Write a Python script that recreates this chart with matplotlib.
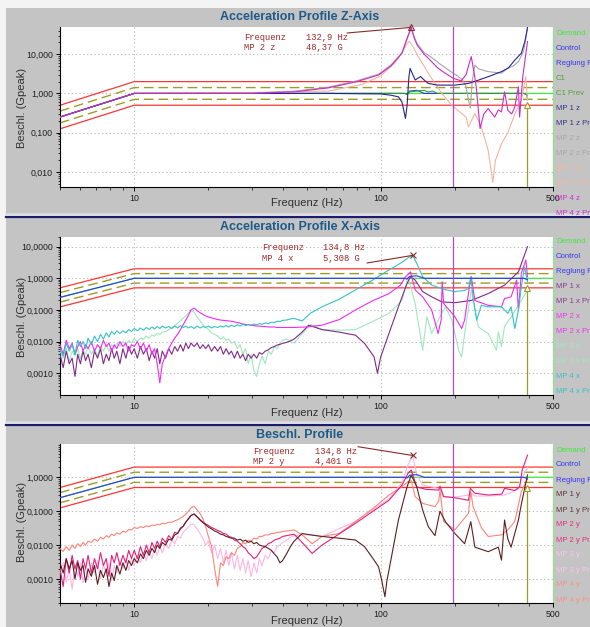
import numpy as np
import matplotlib
matplotlib.use('Agg')
import matplotlib.pyplot as plt
from matplotlib.patches import Rectangle
from matplotlib.lines import Line2D
from matplotlib.ticker import LogLocator, FixedLocator, FixedFormatter, NullFormatter

plt.rcParams['font.family'] = ['Liberation Sans', 'DejaVu Sans']

# ---------------- data ----------------
DEMAND_F = [5, 10, 500]
DEMAND_V = [0.25, 1.0, 1.0]
ABORT_HI_V = [0.5, 2.0, 2.0]
ABORT_LO_V = [0.125, 0.5, 0.5]
ALARM_HI_V = [0.354, 1.41, 1.41]
ALARM_LO_V = [0.177, 0.707, 0.707]

CTRL_F = [5, 10, 125, 128, 131, 140, 145, 150, 380, 388, 394]
CTRL_V = [0.25, 1.0, 1.0, 0.95, 1.15, 1.2, 1.1, 1.0, 1.0, 0.95, 0.9]

VLINE_PURPLE = 196
VLINE_OLIVE = 394
ARROW_V = 0.5

# Panel Z
Z_C1_F = [5, 10, 125, 128, 131, 140, 150, 156, 162, 170, 385, 390, 394]
Z_C1_V = [0.25, 1.0, 1.0, 0.95, 1.1, 1.15, 1.2, 1.08, 1.15, 1.0, 1.0, 0.95, 0.75]
Z_MP1_F = [5, 10, 60, 100, 110, 118, 122, 126, 128, 130, 131.6, 135, 138, 145, 150, 156, 170, 200, 227, 250, 273, 309, 330, 350, 372, 385, 394]
Z_MP1_V = [0.25, 1.0, 1.0, 0.97, 0.9, 0.82, 0.6, 0.23, 0.5, 2.5, 4.37, 3.0, 2.2, 2.7, 2.2, 1.8, 1.63, 1.63, 1.8, 2.2, 2.67, 3.6, 4.5, 7.1, 10.6, 22, 48]
Z_MP2_F = [5, 10, 30, 45, 61.5, 80, 98, 110, 122, 128, 132.9, 137, 141, 150, 160, 175, 190, 205, 215, 222, 227, 231, 235, 241, 250, 273, 309, 328, 345, 362, 380, 394]
Z_MP2_V = [0.25, 1.0, 1.02, 1.15, 1.45, 2.1, 3.1, 5.3, 11, 26, 47, 27, 18, 11, 8.5, 5.5, 3.8, 2.8, 2.2, 1.5, 0.67, 0.42, 2.0, 5.3, 4.2, 3.6, 3.3, 4.4, 5.0, 6.5, 12, 46]
Z_MP3_F = [5, 10, 30, 45, 61.5, 84, 100, 114, 122, 128, 131, 135, 142, 156, 177, 196, 222, 227, 241, 256, 273, 285, 292, 309, 328, 350, 372, 388, 394]
Z_MP3_V = [0.25, 1.0, 1.05, 1.1, 1.15, 1.7, 2.8, 6.0, 11, 19, 21, 16, 8.7, 3.26, 1.0, 0.47, 0.25, 0.14, 0.31, 0.14, 0.035, 0.0054, 0.0195, 0.052, 0.1, 0.3, 0.67, 2.67, 0.67]
Z_MP4_F = [5, 10, 30, 45, 61.5, 80, 98, 110, 122, 128, 132.9, 137, 140.5, 150, 156, 170, 183, 197, 212, 222, 228, 233, 240, 244, 253, 262, 273, 290, 300, 309, 318, 328, 340, 350, 362, 366, 377, 394]
Z_MP4_V = [0.25, 1.0, 1.0, 1.1, 1.39, 2.0, 2.95, 5.0, 10.6, 25, 48.37, 25, 17.3, 10, 7.9, 4.5, 3.26, 2.42, 2.1, 3.0, 5.5, 8.7, 3.0, 1.48, 0.127, 0.3, 0.41, 0.25, 0.38, 0.34, 1.1, 0.37, 0.3, 0.45, 1.48, 0.25, 2.67, 21]

# low-frequency analysis lines shared by the noisy X / Y spectra
LF_FREQ = [5.0, 5.15, 5.3, 5.45, 5.6, 5.75, 5.9, 6.05, 6.2, 6.35, 6.5,
           6.7, 6.9, 7.1, 7.3, 7.5, 7.7, 7.9, 8.1, 8.3, 8.5,
           8.75, 9.0, 9.25, 9.5, 9.75,
           10.0, 10.3, 10.6, 10.9, 11.2, 11.5, 11.8, 12.1, 12.4, 12.7,
           13.0, 13.4, 13.8, 14.2, 14.6, 15.0, 15.4, 15.8, 16.2, 16.6,
           17.0, 17.5, 18.0, 18.5, 19.0, 19.5, 20.0,
           20.6, 21.2, 21.8, 22.4, 23.0, 23.6, 24.2, 24.8,
           25.5, 26.2, 26.9, 27.6, 28.3,
           29.0, 29.8, 30.6, 31.4, 32.2, 33.0,
           34.0, 35.0, 36.0, 37.0, 38.0, 39.0, 40.0,
           41.5, 43.0, 44.5]

# Panel X
X_MP1_LF = [.004, .0015, .005, .002, .003, .0008, .004, .002, .005, .0025, .004,
            .0015, .005, .003, .006, .002, .004, .0025, .006, .003, .005,
            .002, .006, .003, .007, .004,
            .006, .003, .007, .004, .006, .0025, .005, .003, .006, .002,
            .005, .003, .006, .004, .007, .005, .008, .005, .009, .006,
            .009, .007, .009, .006, .008, .006, .008,
            .005, .007, .005, .007, .004, .006, .004, .005,
            .003, .005, .003, .004, .0025,
            .004, .003, .004, .003, .0045, .004,
            .005, .0055, .0065, .007, .0078, .0082, .0088,
            .0095, .0105, .012]
X_MP1_HF_F = [48, 51, 57.8, 67.8, 79, 86, 94, 97, 100, 108, 118, 128, 132, 138, 148, 161, 177, 200, 233, 273, 318, 362, 394]
X_MP1_HF_V = [0.02, 0.033, 0.024, 0.02, 0.016, 0.0088, 0.0033, 0.001, 0.0033, 0.018, 0.126, 0.7, 1.12, 0.88, 0.38, 0.26, 0.18, 0.17, 0.2, 0.33, 0.61, 1.6, 10]

X_MP2_LF = [.008, .004, .011, .006, .009, .004, .007, .010, .005, .008, .006,
            .010, .005, .008, .006, .011, .007, .009, .005, .008, .006,
            .010, .007, .009, .005, .008,
            .007, .010, .006, .009, .005, .008, .004, .006, .002, .0005,
            .002, .0035, .006, .009, .013, .017, .024, .034, .048, .068,
            .10, .115, .095, .082, .072, .065, .060,
            .056, .053, .050, .048, .047, .046, .045, .044,
            .042, .040, .038, .036, .035,
            .034, .033, .032, .031, .031, .030,
            .030, .029, .029, .029, .028, .028, .028,
            .028, .028, .028]
X_MP2_HF_F = [49.5, 57.8, 68, 79, 92, 108, 120, 126, 132, 138, 148, 161, 171, 176, 177.5, 180, 200, 213, 219, 228, 233, 241, 273, 309, 318, 338, 356, 362, 372, 388, 394]
X_MP2_HF_V = [0.029, 0.033, 0.05, 0.1, 0.19, 0.33, 0.6, 1.1, 1.6, 0.43, 0.26, 0.1, 0.018, 0.05, 0.78, 0.16, 0.061, 0.026, 0.048, 0.43, 1.12, 0.2, 0.14, 0.126, 0.23, 0.26, 0.88, 0.1, 1.44, 3.8, 1.12]

X_MP3_LF = [.005, .003, .006, .0025, .005, .0035, .006, .003, .005, .004, .007,
            .004, .006, .0035, .007, .005, .008, .005, .008, .006, .009,
            .007, .010, .008, .011, .009,
            .012, .010, .013, .012, .015, .013, .016, .015, .018, .017,
            .020, .021, .024, .027, .032, .038, .046, .055, .066, .080,
            .095, .085, .060, .045, .035, .028, .024,
            .019, .017, .015, .012, .014, .011, .012, .009,
            .010, .006, .008, .004, .006,
            .002, .004, .0012, .0008, .002, .0035,
            .002, .005, .004, .007, .006, .009, .011,
            .012, .010, .009]
X_MP3_HF_F = [47, 52, 58, 68, 79, 92, 108, 122, 129, 138, 148, 154, 161, 171, 183, 194, 207, 213, 219, 233, 249, 273, 295, 300, 309, 318, 338, 372, 394]
X_MP3_HF_V = [0.015, 0.035, 0.024, 0.023, 0.024, 0.042, 0.078, 0.2, 1.12, 0.16, 0.0054, 0.061, 0.018, 0.048, 0.126, 0.05, 0.0054, 0.0033, 0.018, 0.43, 0.029, 0.018, 0.0054, 0.02, 0.007, 0.03, 0.06, 0.2, 0.43]

X_MP4_LF = [.006, .0035, .009, .005, .008, .004, .011, .007, .010, .006, .013,
            .008, .015, .010, .017, .012, .019, .014, .021, .017, .022,
            .018, .022, .019, .024, .021,
            .026, .022, .027, .023, .028, .024, .029, .025, .030, .026,
            .031, .027, .030, .026, .031, .027, .032, .028, .031, .027,
            .030, .026, .031, .027, .030, .028, .031,
            .027, .030, .028, .031, .029, .032, .029, .033,
            .030, .034, .031, .035, .032,
            .035, .033, .036, .034, .037, .035,
            .039, .037, .041, .040, .044, .043, .047,
            .048, .052, .054]
X_MP4_HF_F = [48, 52, 57.8, 68, 79, 92, 108, 122, 130, 134.8, 140, 148, 161, 180, 200, 220, 227, 232, 237, 245, 256, 273, 309, 328, 338, 350, 362, 372, 383, 394]
X_MP4_HF_V = [0.045, 0.08, 0.126, 0.22, 0.43, 0.85, 1.83, 3.2, 4.6, 5.308, 3.0, 1.12, 0.61, 0.45, 0.38, 0.42, 0.48, 1.12, 0.26, 0.048, 0.14, 0.126, 0.126, 0.078, 0.126, 0.026, 0.1, 0.54, 2.3, 0.78]

# Panel Y
Y_MP1_LF = [.003, .0015, .004, .002, .0035, .001, .003, .0018, .0025, .0008, .002,
            .0012, .0025, .0007, .0018, .0011, .002, .0006, .0015, .0009, .0025,
            .0014, .003, .0018, .0035, .0025,
            .004, .003, .0055, .004, .007, .005, .008, .006, .010, .008,
            .012, .010, .015, .014, .020, .022, .030, .036, .048, .060,
            .075, .083, .068, .055, .046, .040, .034,
            .030, .026, .024, .021, .020, .018, .017, .016,
            .016, .014, .015, .013, .014,
            .012, .013, .011, .012, .010, .0095,
            .009, .008, .007, .0055, .0045, .003, .0035,
            .0055, .009, .013]
Y_MP1_HF_F = [48, 52, 57.8, 68, 79, 86, 92, 98, 101, 104, 106, 108, 118, 128, 133, 140, 148, 156, 166, 174, 183, 200, 219, 232, 241, 273, 300, 309, 318, 328, 338, 362, 372, 394]
Y_MP1_HF_V = [0.022, 0.02, 0.018, 0.016, 0.0141, 0.009, 0.0045, 0.0023, 0.0009, 0.0003, 0.0009, 0.0018, 0.055, 0.53, 1.17, 0.53, 0.108, 0.035, 0.019, 0.1, 0.049, 0.022, 0.011, 0.049, 0.0087, 0.0064, 0.0087, 0.0036, 0.055, 0.015, 0.0087, 0.055, 0.16, 1.17]

Y_MP2_LF = [.002, .0006, .004, .0015, .005, .002, .0035, .001, .004, .002, .005,
            .0015, .004, .002, .006, .0025, .004, .0012, .005, .003, .006,
            .0025, .005, .003, .007, .004,
            .007, .004, .009, .005, .010, .006, .012, .008, .013, .009,
            .016, .012, .019, .015, .024, .022, .032, .036, .048, .060,
            .075, .082, .068, .056, .048, .042, .038,
            .033, .030, .027, .025, .022, .021, .018, .017,
            .014, .013, .011, .009, .008,
            .006, .005, .004, .0045, .006, .008,
            .009, .011, .012, .014, .015, .016, .018,
            .019, .020, .021]
Y_MP2_HF_F = [48, 52.7, 57.8, 79, 108, 122, 129, 133, 140, 153, 172, 174, 180, 200, 227, 231, 241, 273, 310, 318, 350, 366, 375, 394]
Y_MP2_HF_V = [0.012, 0.0057, 0.01, 0.044, 0.21, 0.59, 1.3, 1.64, 0.52, 0.44, 0.42, 0.55, 0.27, 0.25, 0.21, 0.47, 0.34, 0.3, 0.32, 0.47, 0.41, 0.52, 1.64, 4.5]

Y_MP3_LF = [.0015, .003, .0008, .002, .0005, .0025, .0012, .003, .0008, .0022, .001,
            .003, .0015, .0035, .001, .0028, .0014, .003, .0009, .0025, .0015,
            .0035, .002, .004, .0018, .004,
            .0025, .005, .003, .006, .0035, .007, .004, .008, .005, .009,
            .006, .011, .008, .014, .011, .018, .016, .024, .028, .035,
            .042, .040, .030, .022, .016, .010, .013,
            .006, .010, .004, .008, .003, .007, .0025, .006,
            .002, .005, .0018, .004, .0015,
            .0035, .0012, .003, .0015, .004, .0025,
            .005, .004, .007, .006, .009, .010, .012,
            .014, .017, .019]
Y_MP3_HF_F = [48, 52.7, 57.8, 79, 108, 122, 129, 134.8, 140, 148, 166, 174, 180, 200, 227, 233, 241, 273, 318, 338, 362, 375, 394]
Y_MP3_HF_V = [0.02, 0.02, 0.018, 0.05, 0.23, 0.7, 2.3, 4.401, 1.2, 0.59, 0.5, 0.45, 0.27, 0.26, 0.3, 0.34, 0.28, 0.28, 0.3, 0.36, 0.45, 1.0, 1.9]

Y_MP4_LF = [.008, .0065, .009, .007, .010, .008, .011, .009, .012, .010, .013,
            .012, .015, .013, .017, .015, .019, .017, .021, .019, .023,
            .021, .026, .024, .029, .028,
            .033, .031, .035, .033, .037, .035, .039, .038, .041, .040,
            .044, .043, .047, .047, .052, .056, .062, .070, .082, .10,
            .125, .14, .11, .085, .06, .035, .018,
            .009, .002, .0006, .003, .0025, .0045, .004, .006,
            .005, .008, .009, .012, .011,
            .014, .013, .016, .015, .018, .018,
            .020, .020, .022, .022, .024, .024, .025,
            .026, .027, .028]
Y_MP4_HF_F = [48, 52.7, 57.8, 67.8, 79, 95, 108, 122, 129, 133, 138, 148, 166, 172, 174, 180, 200, 227, 232, 237, 256, 273, 309, 328, 350, 372, 394]
Y_MP4_HF_V = [0.02, 0.011, 0.018, 0.022, 0.049, 0.136, 0.3, 0.53, 0.74, 0.8, 0.27, 0.17, 0.136, 0.2, 0.42, 0.05, 0.028, 0.087, 0.38, 0.136, 0.033, 0.018, 0.02, 0.028, 0.05, 0.38, 0.88]

# cursor readouts
Z_PEAK = (132.9, 48.37)
X_PEAK = (134.8, 5.308)
Y_PEAK = (134.8, 4.401)

Z_LEGEND = ["Demand", "Control", "Reglung Prev", "C1", "C1 Prev", "MP 1 z", "MP 1 z Prev",
            "MP 2 z", "MP 2 z Prev", "MP 3 z", "MP 3 z Prev", "MP 4 z", "MP 4 z Prev"]
X_LEGEND = ["Demand", "Control", "Reglung Prev", "MP 1 x", "MP 1 x Prev", "MP 2 x", "MP 2 x Prev",
            "MP 3 x", "MP 3 x Prev", "MP 4 x", "MP 4 x Prev"]
Y_LEGEND = ["Demand", "Control", "Reglung Prev", "MP 1 y", "MP 1 y Prev", "MP 2 y", "MP 2 y Prev",
            "MP 3 y", "MP 3 y Prev", "MP 4 y", "MP 4 y Prev"]

# ---------------- styling ----------------
W, H = 590, 627
GREEN = '#3fe83f'
BLUE = '#3535f0'
RED = '#ff3535'
OLIVE = '#9c9c2c'
PURPLE_V = '#b448c8'
ANNO = '#a02828'
TITLE_C = '#1d5a8a'
BG = '#c4c4c4'

Z_COLORS = {'c1': '#30a030', 'mp1': '#262690', 'mp2': '#a6a6a6', 'mp3': '#f2b49c', 'mp4': '#cc2ccc'}
X_COLORS = {'mp1': '#802a86', 'mp2': '#f02af0', 'mp3': '#9ee8bc', 'mp4': '#34c2c4'}
Y_COLORS = {'mp1': '#5a2020', 'mp2': '#e2207a', 'mp3': '#ffb4e6', 'mp4': '#ff8478'}

Z_LEG_COLORS = [GREEN, BLUE, BLUE, '#55a03a', '#55a03a', '#34348a', '#34348a', '#a8a8a8', '#a8a8a8',
                '#f2b8a4', '#f2b8a4', '#c834c8', '#c834c8']
X_LEG_COLORS = [GREEN, BLUE, BLUE, '#8a3a8a', '#8a3a8a', '#ee34ee', '#ee34ee', '#a4e6c4', '#a4e6c4',
                '#3cc0c0', '#3cc0c0']
Y_LEG_COLORS = [GREEN, BLUE, BLUE, '#603434', '#603434', '#e2307c', '#e2307c', '#f6c4ea', '#f6c4ea',
                '#f89288', '#f89288']

fig = plt.figure(figsize=(W / 100, H / 100), dpi=100)
fig.patch.set_facecolor('#f4f4f4')


def fx(x):
    return x / W


def fy(y):
    return 1 - y / H


def ftext(x, y, s, **kw):
    fig.text(fx(x), fy(y), s, **kw)


# panel backgrounds and separators (behind the axes)
for (y0, y1) in [(8, 214), (218, 422), (426, 627)]:
    fig.patches.append(Rectangle((fx(6), fy(y1)), 1 - fx(6), (y1 - y0) / H,
                                 transform=fig.transFigure, facecolor=BG, edgecolor='none', zorder=-10))
for yy in [216.5, 424.5]:
    fig.lines.append(Line2D([fx(6), 1], [fy(yy), fy(yy)], transform=fig.transFigure,
                            color='#1c1c6c', lw=1.6, zorder=-5))
    fig.lines.append(Line2D([fx(6), 1], [fy(yy - 2.2), fy(yy - 2.2)], transform=fig.transFigure,
                            color='#dadada', lw=1.2, zorder=-5))


def make_axes(y0, y1, ylim, yticks, ndec):
    ax = fig.add_axes([fx(60), fy(y1), (553 - 60) / W, (y1 - y0) / H])
    ax.set_zorder(1)
    ax.set_xscale('log')
    ax.set_yscale('log')
    ax.set_xlim(5, 500)
    ax.set_ylim(*ylim)
    ax.set_facecolor('white')
    ax.xaxis.set_major_locator(FixedLocator([10, 100, 500]))
    ax.xaxis.set_major_formatter(FixedFormatter(['10', '100', '500']))
    ax.xaxis.set_minor_locator(LogLocator(base=10, subs=np.arange(2, 10), numticks=20))
    ax.xaxis.set_minor_formatter(NullFormatter())
    ax.yaxis.set_major_locator(FixedLocator(yticks))
    ax.yaxis.set_major_formatter(FixedFormatter([f"{v:.{ndec}f}".replace('.', ',') for v in yticks]))
    ax.yaxis.set_minor_locator(LogLocator(base=10, subs=np.arange(2, 10), numticks=20))
    ax.yaxis.set_minor_formatter(NullFormatter())
    ax.tick_params(which='major', direction='out', length=3, width=0.7, labelsize=6.3,
                   labelcolor='#202020', pad=2)
    ax.tick_params(which='minor', direction='out', length=1.8, width=0.5)
    ax.grid(True, which='major', linestyle=(0, (1.2, 2.2)), color='#bdbdbd', lw=0.8)
    ax.spines['top'].set_visible(False)
    ax.spines['right'].set_color('#8ae88a')
    ax.spines['left'].set_linewidth(0.8)
    ax.spines['bottom'].set_linewidth(0.8)
    return ax


def draw_profile(ax, ylim):
    ax.plot(DEMAND_F, ABORT_HI_V, color=RED, lw=0.9, zorder=2)
    ax.plot(DEMAND_F, ABORT_LO_V, color=RED, lw=0.9, zorder=2)
    ax.plot(DEMAND_F, ALARM_HI_V, color=OLIVE, lw=1.0, ls=(0, (7, 3.5)), zorder=2)
    ax.plot(DEMAND_F, ALARM_LO_V, color=OLIVE, lw=1.0, ls=(0, (7, 3.5)), zorder=2)
    ax.plot(DEMAND_F, DEMAND_V, color=GREEN, lw=0.9, zorder=2)
    ax.axvline(VLINE_PURPLE, color=PURPLE_V, lw=0.9, zorder=5)
    ax.plot([VLINE_OLIVE, VLINE_OLIVE], [ylim[0], ARROW_V * 1.1], color=OLIVE, lw=0.9, zorder=5)
    ax.plot([VLINE_OLIVE], [ARROW_V], marker='^', ms=4.5, mfc='#fffff0', mec=OLIVE, mew=0.8, zorder=6)


def readout(ax, peak, x_txt, y1, y2, col2x, name, val_txt, f_txt, line_from, marker):
    kw = dict(family=['Liberation Mono', 'DejaVu Sans Mono'], fontsize=6.3, color=ANNO, va='center', ha='left',
              zorder=10)
    ftext(x_txt, y1, 'Frequenz', **kw)
    ftext(col2x, y1, f_txt, **kw)
    ftext(x_txt, y2, name, **kw)
    ftext(col2x, y2, val_txt, **kw)
    ax.annotate('', xy=peak, xycoords='data', xytext=(line_from[0], H - line_from[1]),
                textcoords='figure pixels',
                arrowprops=dict(arrowstyle='-', color='#8a2a2a', lw=0.8, shrinkA=0, shrinkB=0),
                annotation_clip=False)
    ax.plot([peak[0]], [peak[1]], marker=marker, ms=5, color='#8a2a2a', mfc='none', mew=0.8,
            zorder=7, clip_on=False)


def legend(y0, labels, colors):
    for i, (lab, col) in enumerate(zip(labels, colors)):
        ftext(556, y0 + 15 * i, lab, color=col, fontsize=5.6, va='center', ha='left', zorder=10)


def panel_text(title, ty, xl_y, yl_y):
    ftext(300, ty, title, fontsize=9, fontweight='bold', color=TITLE_C, ha='center', va='center', zorder=10)
    ftext(307, xl_y, 'Frequenz (Hz)', fontsize=8, color='#303030', ha='center', va='center', zorder=10)
    ftext(22, yl_y, 'Beschl. (Gpeak)', fontsize=8, color='#303030', ha='center', va='center', rotation=90,
          zorder=10)


LW = 0.8

# ---- Panel 1: Z ----
ylim1 = (0.0041, 49.5)
ax1 = make_axes(27, 187, ylim1, [0.01, 0.1, 1, 10], 3)
draw_profile(ax1, ylim1)
ax1.plot(CTRL_F, CTRL_V, color=BLUE, lw=LW, zorder=3)
ax1.plot(Z_C1_F, Z_C1_V, color=Z_COLORS['c1'], lw=LW, zorder=3)
ax1.plot(Z_MP3_F, Z_MP3_V, color=Z_COLORS['mp3'], lw=LW, zorder=3)
ax1.plot(Z_MP2_F, Z_MP2_V, color=Z_COLORS['mp2'], lw=LW, zorder=3)
ax1.plot(Z_MP1_F, Z_MP1_V, color=Z_COLORS['mp1'], lw=LW, zorder=4)
ax1.plot(Z_MP4_F, Z_MP4_V, color=Z_COLORS['mp4'], lw=LW, zorder=4)
readout(ax1, Z_PEAK, 244, 38, 48, 306, 'MP 2 z', '48,37 G', '132,9 Hz', (347, 33), '^')
panel_text('Acceleration Profile Z-Axis', 17, 203, 108)
legend(33.3, Z_LEGEND, Z_LEG_COLORS)

# ---- Panel 2: X ----
ylim2 = (0.000206, 20.2)
ax2 = make_axes(237, 395, ylim2, [0.001, 0.01, 0.1, 1, 10], 4)
draw_profile(ax2, ylim2)
ax2.plot(LF_FREQ + X_MP3_HF_F, X_MP3_LF + X_MP3_HF_V, color=X_COLORS['mp3'], lw=LW, zorder=3)
ax2.plot(LF_FREQ + X_MP1_HF_F, X_MP1_LF + X_MP1_HF_V, color=X_COLORS['mp1'], lw=LW, zorder=3)
ax2.plot(LF_FREQ + X_MP2_HF_F, X_MP2_LF + X_MP2_HF_V, color=X_COLORS['mp2'], lw=LW, zorder=3)
ax2.plot(LF_FREQ + X_MP4_HF_F, X_MP4_LF + X_MP4_HF_V, color=X_COLORS['mp4'], lw=LW, zorder=3)
ax2.plot(CTRL_F, CTRL_V, color=BLUE, lw=LW, zorder=4)
readout(ax2, X_PEAK, 262, 247.7, 258.5, 323, 'MP 4 x', '5,308 G', '134,8 Hz', (367, 263), 'x')
panel_text('Acceleration Profile X-Axis', 227, 413, 317)
legend(241.7, X_LEGEND, X_LEG_COLORS)

# ---- Panel 3: Y ----
ylim3 = (0.000196, 9.6)
ax3 = make_axes(444, 603, ylim3, [0.001, 0.01, 0.1, 1], 4)
draw_profile(ax3, ylim3)
ax3.plot(LF_FREQ + Y_MP3_HF_F, Y_MP3_LF + Y_MP3_HF_V, color=Y_COLORS['mp3'], lw=LW, zorder=3)
ax3.plot(LF_FREQ + Y_MP4_HF_F, Y_MP4_LF + Y_MP4_HF_V, color=Y_COLORS['mp4'], lw=LW, zorder=3)
ax3.plot(LF_FREQ + Y_MP2_HF_F, Y_MP2_LF + Y_MP2_HF_V, color=Y_COLORS['mp2'], lw=LW, zorder=3)
ax3.plot(LF_FREQ + Y_MP1_HF_F, Y_MP1_LF + Y_MP1_HF_V, color=Y_COLORS['mp1'], lw=LW, zorder=3)
ax3.plot(CTRL_F, CTRL_V, color=BLUE, lw=LW, zorder=4)
readout(ax3, Y_PEAK, 253, 452, 461.5, 315, 'MP 2 y', '4,401 G', '134,8 Hz', (358, 446.7), 'x')
panel_text('Beschl. Profile', 435, 621, 522)
legend(450, Y_LEGEND, Y_LEG_COLORS)

fig.savefig('out.png', dpi=100)
